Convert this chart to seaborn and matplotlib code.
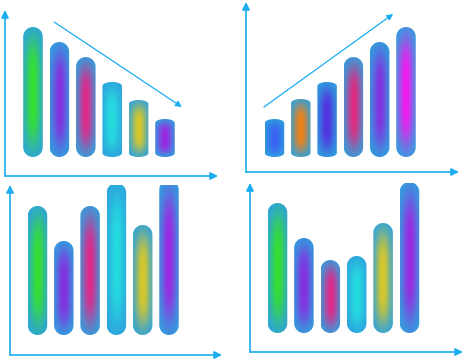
import numpy as np
import matplotlib
matplotlib.use("Agg")
import matplotlib.pyplot as plt
from matplotlib.colors import to_rgb
from matplotlib.patches import Polygon
import seaborn as sns

sns.set_style("white")

# ---- data (bar heights, in pixel units) ----
categories = ["A", "B", "C", "D", "E", "F"]
falling_values = [130, 115, 100, 75, 57, 38]
rising_values = [38, 58, 75, 100, 115, 130]
mixed_values = [129, 94, 129, 152, 110, 155]
dip_values = [130, 95, 73, 77, 110, 151]

glow_colors_a = ["#35e030", "#8430e0", "#e0288a", "#25dde0", "#d8c828", "#9c28e2"]
glow_colors_b = ["#3a62f2", "#f08014", "#5232e0", "#e02a80", "#8232e0", "#f21af0"]

falling_trend = [(0.80, 135), (5.64, 50)]
rising_trend = [(-0.40, 50), (4.51, 143)]

AXIS_COLOR = "#1aaef0"
BAR_EDGE = "#2ea2de"
W, H = 464, 360

# panel layout in pixels: y-axis x, x-axis y, x arrow tip, y arrow tip,
# bar baseline, first bar centre, bar spacing, flat caps below this height
panels = [
    dict(vals=falling_values, cols=glow_colors_a, trend=falling_trend,
         ax_x=5, ax_y=176, x_tip=218, y_tip=10, base=157, c0=33, step=26.4, flat=80),
    dict(vals=rising_values, cols=glow_colors_b, trend=rising_trend,
         ax_x=246, ax_y=172, x_tip=459, y_tip=2, base=157, c0=274.5, step=26.3, flat=80),
    dict(vals=mixed_values, cols=glow_colors_a, trend=None,
         ax_x=10, ax_y=355, x_tip=222, y_tip=185, base=335, c0=37.5, step=26.3, flat=0),
    dict(vals=dip_values, cols=glow_colors_a, trend=None,
         ax_x=250, ax_y=352, x_tip=463, y_tip=183, base=333, c0=277.5, step=26.4, flat=0),
]


def capsule(x, w, h, ry):
    """Bar outline with elliptical caps at top and bottom."""
    rx = w / 2
    cx = x + rx
    t1 = np.linspace(0, np.pi, 40)
    t2 = np.linspace(np.pi, 2 * np.pi, 40)
    top = np.column_stack([cx + rx * np.cos(t1), h - ry + ry * np.sin(t1)])
    bot = np.column_stack([cx + rx * np.cos(t2), ry + ry * np.sin(t2)])
    return np.vstack([top, bot])


def glow_image(center, nx=40, ny=120):
    u = np.linspace(-1, 1, nx)
    v = np.linspace(0, 1, ny)
    wx = np.exp(-(u / 0.8) ** 2)
    wy = np.exp(-((v - 0.5) / 0.42) ** 4)
    wt = (wy[:, None] * wx[None, :])[..., None]
    base = np.array(to_rgb(BAR_EDGE))
    c = np.array(to_rgb(center))
    return base * (1 - wt) + c * wt


fig = plt.figure(figsize=(W / 100, H / 100), dpi=100)

for p in panels:
    width_px = p["x_tip"] - p["ax_x"]
    height_px = p["ax_y"] - p["y_tip"]
    ax = fig.add_axes([p["ax_x"] / W, 1 - p["ax_y"] / H, width_px / W, height_px / H])
    sns.barplot(x=categories, y=p["vals"], ax=ax, width=0.74, color=BAR_EDGE)

    xlo = -(p["c0"] - p["ax_x"]) / p["step"]
    xhi = xlo + width_px / p["step"]
    ylo = -(p["ax_y"] - p["base"])
    yhi = p["base"] - p["y_tip"]

    for bar, col in zip(list(ax.patches), p["cols"]):
        x, w, h = bar.get_x(), bar.get_width(), bar.get_height()
        bar.set_visible(False)
        if h > p["flat"]:
            ry = w / 2 * p["step"]
        else:
            ry = 4.0
        outline = Polygon(capsule(x, w, h, ry), closed=True, facecolor="none",
                          edgecolor="none", transform=ax.transData)
        ax.add_patch(outline)
        im = ax.imshow(glow_image(col), extent=[x, x + w, 0, h], origin="lower",
                       aspect="auto", interpolation="bilinear", zorder=2)
        im.set_clip_path(outline)
        im.set_clip_box(None)

    ax.set_xlim(xlo, xhi)
    ax.set_ylim(ylo, yhi)
    ax.axis("off")

    arrow = dict(arrowstyle="-|>", color=AXIS_COLOR, lw=1.2,
                 mutation_scale=11, shrinkA=0, shrinkB=0)
    ax.annotate("", xy=(1, 0), xytext=(0, 0), xycoords="axes fraction",
                arrowprops=arrow, annotation_clip=False)
    ax.annotate("", xy=(0, 1), xytext=(0, 0), xycoords="axes fraction",
                arrowprops=arrow, annotation_clip=False)

    if p["trend"] is not None:
        (x0, y0), (x1, y1) = p["trend"]
        ax.annotate("", xy=(x1, y1), xytext=(x0, y0),
                    arrowprops=dict(arrowstyle="-|>", color=AXIS_COLOR, lw=0.9,
                                    mutation_scale=9, shrinkA=0, shrinkB=0),
                    annotation_clip=False)

fig.savefig("out.png", dpi=100)
